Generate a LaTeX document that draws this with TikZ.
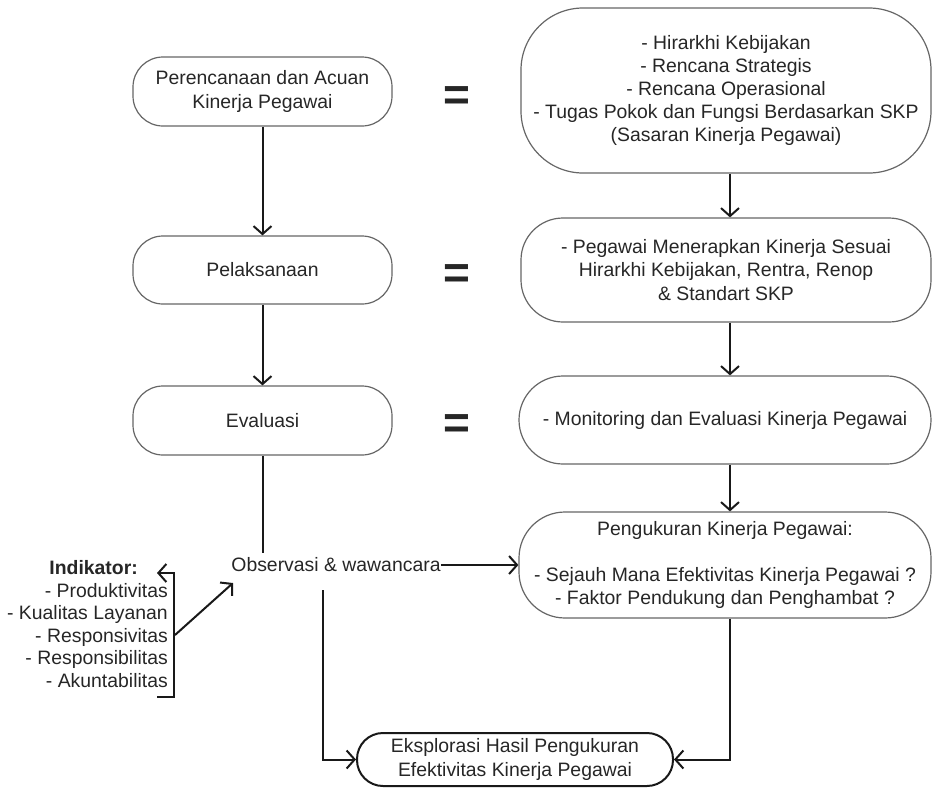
\documentclass[tikz,border=0pt]{standalone}
\usepackage{fontspec}
\setmainfont{Liberation Sans}
\usetikzlibrary{arrows.meta,calc}
\begin{document}
\begin{tikzpicture}[x=1pt,y=-1pt,
  txt/.style={font=\fontsize{19.4}{23.2}\selectfont, text=black!85, align=center},
  box/.style={txt, draw=black!60, line width=1.2pt, rectangle, inner sep=0pt},
  eq/.style={font=\fontsize{46}{46}\selectfont\bfseries, text=black!85, inner sep=0pt, anchor=base},
  arr/.style={draw=black!90, line width=2pt, -{Straight Barb[length=8pt,width=18pt]}},
  plain/.style={draw=black!90, line width=2pt},
]
\useasboundingbox (0,0) rectangle (932,788);

% left column
\node[box, rounded corners=30pt, minimum width=259pt, minimum height=69pt] (n1) at (262.5,91.5) {Perencanaan dan Acuan\\Kinerja Pegawai};
\node[box, rounded corners=30pt, minimum width=259pt, minimum height=68pt] (n2) at (262.5,270) {Pelaksanaan};
\node[box, rounded corners=30pt, minimum width=259pt, minimum height=69pt] (n3) at (262.5,420.5) {Evaluasi};

% equals signs
\node[eq] (e1) at (457,110) {=};
\node[eq] (e2) at (457,288.6) {=};
\node[eq] (e3) at (457,438.6) {=};

% right column
\node[box, rounded corners=62pt, minimum width=410pt, minimum height=165pt] (r1) at (726,90.5) {- Hirarkhi Kebijakan\\- Rencana Strategis\\- Rencana Operasional\\- Tugas Pokok dan Fungsi Berdasarkan SKP\\(Sasaran Kinerja Pegawai)};
\node[box, rounded corners=42pt, minimum width=410pt, minimum height=104pt] (r2) at (726,270) {- Pegawai Menerapkan Kinerja Sesuai\\Hirarkhi Kebijakan, Rentra, Renop\\\& Standart SKP};
\node[box, rounded corners=44pt, minimum width=412pt, minimum height=88pt] (r3) at (725,420) {- Monitoring dan Evaluasi Kinerja Pegawai};
\node[box, rounded corners=46pt, minimum width=412pt, minimum height=106pt] (r4) at (725,565) {Pengukuran Kinerja Pegawai:\\\mbox{}\\- Sejauh Mana Efektivitas Kinerja Pegawai ?\\- Faktor Pendukung dan Penghambat ?};

% bottom
\node[box, draw=black!90, line width=2pt, rounded corners=26pt, minimum width=316pt, minimum height=53pt] (b) at (515,759.5) {Eksplorasi Hasil Pengukuran\\Efektivitas Kinerja Pegawai};

% observation
\node[txt, inner sep=0pt] (obs) at (336,565) {Observasi \& wawancara};

% indicators
\node[txt, font=\fontsize{19.4}{23.2}\selectfont\bfseries, anchor=base east, inner sep=0pt] (indt) at (138,574) {Indikator:};
\node[txt, font=\fontsize{19.4}{22.5}\selectfont, align=right, anchor=north east, inner sep=0pt] (indl) at (168,583) {- Produktivitas\\- Kualitas Layanan\\- Responsivitas\\- Responsibilitas\\- Akuntabilitas};

% connectors
\draw[arr] (n1) -- (n2);
\draw[arr] (n2) -- (n3);
\draw[arr] ([xshift=4pt]r1.south) -- ([xshift=4pt]r2.north);
\draw[arr] ([xshift=4pt]r2.south) -- ([xshift=5pt]r3.north);
\draw[arr] ([xshift=5pt]r3.south) -- ([xshift=5pt]r4.north);
\draw[plain] (n3.south) -- ([yshift=5pt]obs.north -| n3.south);
\draw[arr] (obs.east) -- (obs.east -| r4.west);
\coordinate (d1) at (323,590);
\draw[arr] (d1) |- (b.west);
\draw[arr] ([xshift=5pt]r4.south) |- (b.east);

% bracket
\coordinate (bbe) at (157,697);
\coordinate (bb) at (174,697);
\coordinate (bt) at (174,573);
\coordinate (bte) at (157,573);
\draw[arr] (bbe) -- (bb) -- (bt) -- (bte);
\coordinate (dg) at (175,635);
\coordinate (dge) at (233,583);
\draw[arr] (dg) -- (dge);
\end{tikzpicture}
\end{document}
